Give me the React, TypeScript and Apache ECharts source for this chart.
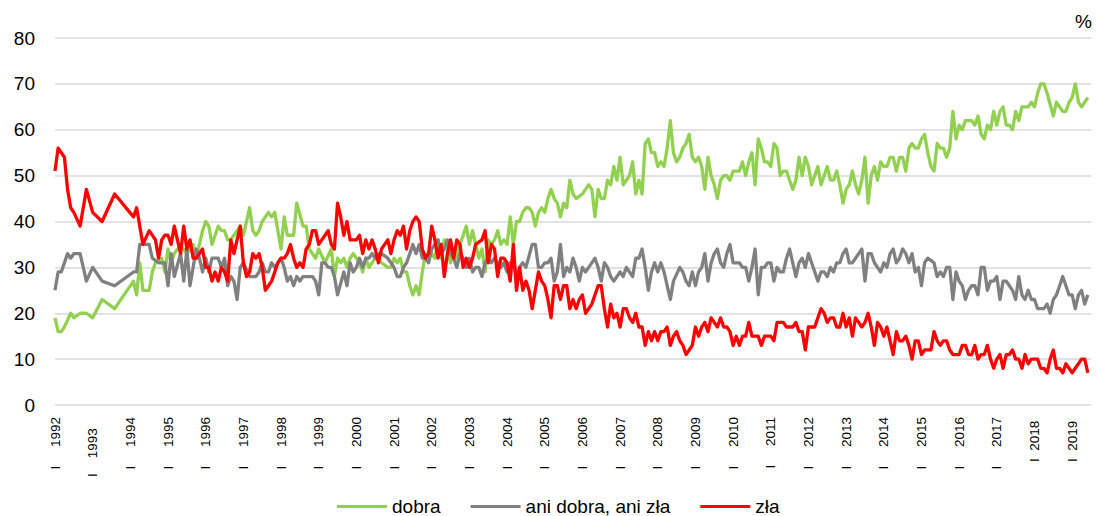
import React, { useEffect, useRef } from 'react';
import * as echarts from 'echarts';

// month index 0 = I 1992; one step = one month
const years = [1992, 1993, 1994, 1995, 1996, 1997, 1998, 1999, 2000, 2001, 2002, 2003, 2004, 2005, 2006, 2007, 2008, 2009, 2010, 2011, 2012, 2013, 2014, 2015, 2016, 2017, 2018, 2019];
const yTicks = [0, 10, 20, 30, 40, 50, 60, 70, 80];
const seriesNames = ['dobra', 'ani dobra, ani zła', 'zła'];

const dobra = [
  19, 16, 16, 17, null, 20, 19, null, 20, null,
  20, null, 19, null, null, 23, null, null, null, 21,
  null, null, null, null, null, 27, 24, 31, 25, null,
  25, 29, 31, null, 32, 29, 34, 31, 33, 34,
  null, 34, 33, null, 35, 32, 35, 38, 40, 39,
  35, null, 39, 38, 38, 36, 36, 37, null, 39,
  37, null, 43, 38, 37, 38, 40, null, 42, 41,
  42, 38, 34, 41, 37, null, 37, 44, null, 39,
  39, 34, null, 32, 34, null, 31, null, 34, 28,
  32, 31, 32, 30, 32, 33, 32, 31, 29, 32,
  30, 31, 32, 32, 31, null, 30, 30, 32, 31,
  32, 29, 29, 26, 24, 26, 24, 29, 33, 32,
  33, 32, 36, 32, 36, 34, 31, 34, 32, 35,
  null, 39, 35, 38, 35, 32, 34, 29, 36, 35,
  36, 38, 35, 36, 35, 41, 35, 40, 40, 42,
  43, 43, 42, 39, 42, 43, 42, 45, 47, 45,
  44, 41, 44, 43, 49, 46, 45, null, 46, 47,
  48, 47, 41, 47, 45, 45, 49, 48, 52, 49,
  54, 48, 49, 50, 53, 46, 49, 46, 57, 58,
  55, 55, 52, 53, 52, 56, 62, 55, 53, 54,
  56, 57, 59, 54, 53, 54, 52, 47, 54, 50,
  48, 45, 49, 50, 50, 49, 51, 51, 51, 53,
  50, 53, 55, 48, 58, 56, 53, 53, 52, 57,
  56, 50, 51, 51, 49, 47, 49, 54, 50, 54,
  52, 48, 50, 52, 48, 50, 52, 49, 49, 51,
  48, 44, 47, 48, 51, 48, 46, 49, 54, 44,
  50, 52, 49, 53, 52, 52, 54, 54, 51, 54,
  54, 51, 56, 57, 56, 56, 58, 59, 55, 52,
  51, 57, 56, 56, 54, 56, 64, 58, 61, 60,
  62, 62, 62, 61, 63, 59, 58, 61, 60, 64,
  61, 64, 65, 61, 61, 60, 64, 62, 65, 65,
  65, 66, 65, 68, 70, 70, 68, null, 63, 66,
  65, 64, 64, 66, 67, 70, 66, 65, 66, 67,
];

const aniDobraAniZla = [
  25, 29, 29, null, 33, 32, 33, null, 33, null,
  27, null, 30, null, null, 27, null, null, null, 26,
  null, null, null, null, null, 29, 29, 35, null, 35,
  35, 32, null, 31, null, 31, 26, 33, 28, null,
  33, 27, 34, 26, null, 34, 32, 29, 32, 29,
  32, null, 32, 30, 32, 26, 28, 27, 23, 30,
  31, null, 28, 28, 28, 29, 31, 29, 29, 31,
  30, 31, 32, 30, 27, 28, 26, 28, 27, 28,
  null, 28, 28, 27, 24, 31, 31, 30, 30, 28,
  24, null, 29, 26, 31, 29, 30, 32, 30, 32,
  32, 33, 32, 33, 33, null, 32, 31, 30, 28,
  28, 30, 31, 33, 35, 33, 35, 32, 32, 31,
  34, null, 36, 33, 34, 36, 33, 32, 30, 33,
  32, 30, 32, 29, 30, 30, 28, 31, 32, 31,
  32, 31, 30, 31, 29, 31, 31, 28, 30, 31,
  30, null, 35, 35, 30, 30, 31, 31, 32, 27,
  29, 35, 28, 30, 29, 32, 30, 27, 30, 29,
  30, null, 32, 30, 27, 31, 30, 28, 27, 28,
  29, 28, 30, 29, 28, 32, 32, 34, 30, 25,
  29, 31, 29, 31, 29, 26, 23, 27, null, 30,
  29, 27, 26, 29, 26, 29, 30, 33, 27, 31,
  33, 34, 31, 30, 33, 35, 31, 31, 31, 30,
  30, 27, 30, 34, 24, 30, 30, 31, 31, 27,
  30, 29, 29, 32, 34, 31, 28, 31, 32, 30,
  33, 31, null, 27, 29, 29, 28, 30, 29, 31,
  31, 33, 34, 31, 31, 32, 33, 34, 27, 33,
  33, 31, 30, 29, 31, 30, 33, 34, 31, 32,
  34, 33, 31, 33, 29, 30, 26, 31, 32, null,
  31, 28, 29, 28, 30, 30, 23, 29, 27, 26,
  23, 25, 26, 26, 24, 30, 30, 25, 27, 27,
  28, 23, 27, 27, 26, 25, 23, 28, 24, 23,
  25, 23, 23, 21, 21, 21, 22, 20, 23, 24,
  26, 28, 26, 24, 24, 21, 24, 25, 22, 24,
];

const zla = [
  51, 56, 55, 54, 47, 43, 42, null, 39, null,
  47, null, 42, null, null, 40, null, null, null, 46,
  null, null, null, null, null, 41, 43, null, 35, null,
  38, null, 36, 32, 36, 37, 37, 35, 39, null,
  33, 39, 34, 36, 32, 32, 33, 34, 30, 30,
  27, 29, 27, 30, 29, 27, 36, 33, 36, 39,
  31, 28, 29, 33, 32, 33, 30, 25, 26, 27,
  29, 31, 32, 32, 33, 35, 32, 30, 31, 30,
  34, 35, 38, 38, 35, 36, 37, 38, 35, 34,
  44, 41, 37, 40, 36, 36, 36, 37, 33, 36,
  34, 36, 34, 31, 34, null, 36, 33, 36, 38,
  37, 39, 34, 38, 40, 41, 40, 34, 32, 33,
  39, 36, 32, 35, 28, 33, 36, 32, 36, 35,
  30, 32, 30, 32, 35, null, 36, 38, 31, 35,
  34, 28, 32, 32, 31, 27, 35, 25, 30, 25,
  27, 25, 21, 25, 29, 27, 26, 23, 19, 26,
  26, 23, 26, 26, 21, 23, 21, 23, 24, 20,
  null, 22, 24, 26, 26, 21, 17, 22, 19, 20,
  17, 21, 21, 19, 18, 20, 17, 17, 13, 16,
  14, 16, 14, 16, 16, 17, 13, 15, 16, 14,
  13, 11, 12, 13, 17, 15, 17, 18, 16, 19,
  null, 17, 19, 17, 17, 16, 13, 15, 13, 15,
  15, 18, 15, 15, 15, 13, 15, 15, 15, 14,
  18, 18, 18, 17, 17, 17, 18, 16, 16, 12,
  17, 17, 17, 19, 21, 20, 18, 19, 19, 17,
  17, 20, 17, 19, 15, 19, 18, 17, 18, 20,
  17, 13, 18, 17, 15, 17, 14, 11, 16, 14,
  14, 15, 13, 10, 14, 14, 11, 12, 12, 12,
  16, 14, 13, 14, 14, 12, 11, 11, 11, 13,
  13, 11, 11, 13, 10, 11, 11, 13, 10, 8,
  10, 11, 8, 11, 11, 12, 10, 10, 8, 11,
  9, 10, 10, 10, 8, 8, 7, 10, 12, 8,
  8, 7, 9, 8, 7, 8, 9, 10, 10, 7,
];

const colors = ['#92D050', '#808080', '#FF0000'];
const FONT = '"Liberation Sans", Arial, sans-serif';

export default function App() {
  const ref = useRef<HTMLDivElement>(null);

  useEffect(() => {
    document.body.style.margin = '0';
    const chart = echarts.init(ref.current!, undefined, { renderer: 'svg' });
    const toData = (arr: (number | null)[]) =>
      arr.map((v, i) => [i, v]).filter((d) => d[1] !== null);
    const nb = (n: number) => '\u00a0'.repeat(n);
    const labelFor = (v: number) => {
      if (v % 12 !== 0) return '';
      const y = years[v / 12];
      if (y === undefined) return '';
      if (y === 1993) return 'I' + nb(4) + y + nb(3);
      if (y >= 2018) return 'I' + nb(2) + y + nb(1);
      return 'I' + nb(5) + y;
    };
    const series = [dobra, aniDobraAniZla, zla].map((arr, k) => ({
      name: seriesNames[k],
      type: 'line',
      data: toData(arr),
      showSymbol: false,
      symbol: 'none',
      connectNulls: true,
      lineStyle: { color: colors[k], width: 3.3, join: 'round' },
      itemStyle: { color: colors[k] },
      z: k === 0 ? 2 : k === 1 ? 3 : 4,
    }));
    chart.setOption({
      animation: false,
      backgroundColor: '#ffffff',
      textStyle: { fontFamily: FONT },
      grid: { left: 55, right: 5, top: 38, bottom: 111, containLabel: false },
      xAxis: {
        type: 'value',
        min: 0,
        max: 330,
        interval: 12,
        axisLine: { show: false },
        axisTick: { show: false },
        splitLine: { show: false },
        axisLabel: {
          rotate: 90,
          margin: 12,
          fontSize: 13.5,
          color: '#000',
          fontFamily: FONT,
          formatter: labelFor,
          showMaxLabel: false,
        },
      },
      yAxis: {
        type: 'value',
        min: yTicks[0],
        max: yTicks[yTicks.length - 1],
        interval: 10,
        axisLine: { show: false },
        axisTick: { show: false },
        splitLine: { lineStyle: { color: '#D9D9D9', width: 1.5 } },
        axisLabel: { fontSize: 19, color: '#000', margin: 20, fontFamily: FONT },
      },
      legend: {
        data: seriesNames.map((n) => ({ name: n, icon: 'rect' })),
        left: 332,
        top: 492,
        itemWidth: 50,
        itemHeight: 3,
        itemGap: 30,
        textStyle: { fontSize: 19, color: '#000', fontFamily: FONT, padding: [0, 0, 0, 0] },
      },
      graphic: [
        {
          type: 'text',
          right: 4,
          top: 12,
          style: { text: '%', font: '19px "Liberation Sans", Arial, sans-serif', fill: '#000' },
        },
      ],
      series,
    });
    return () => chart.dispose();
  }, []);

  return <div ref={ref} style={{ width: 1096, height: 516 }} />;
}
